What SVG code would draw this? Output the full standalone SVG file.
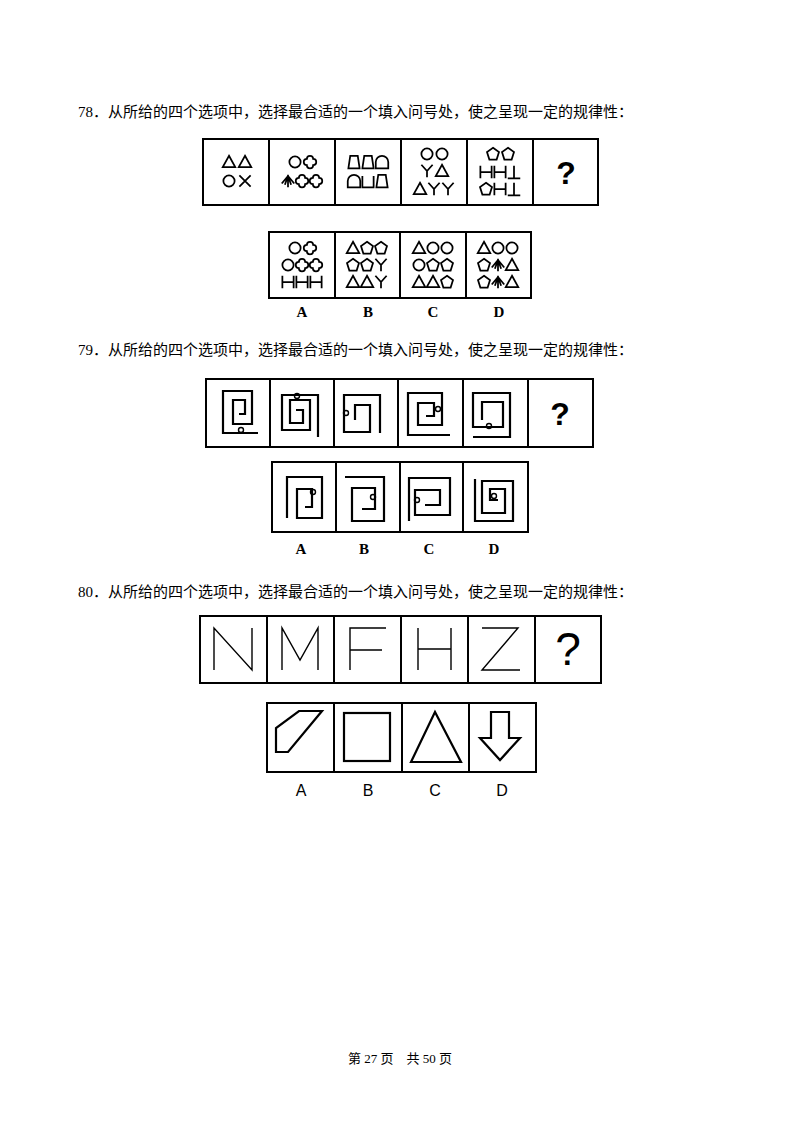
<svg xmlns="http://www.w3.org/2000/svg" xmlns:xlink="http://www.w3.org/1999/xlink" width="800" height="1124" viewBox="0 0 800 1124">
<style>
.q{font-family:"Liberation Serif","Noto Sans CJK SC",serif;font-size:15px;fill:#000}
.box{fill:none;stroke:#000;stroke-width:2}
.s{fill:none;stroke:#000;stroke-width:1.4;stroke-linejoin:miter}
.sp{fill:none;stroke:#000;stroke-width:2.2}
.lb{font-family:"Liberation Serif",serif;font-weight:bold;font-size:15px;text-anchor:middle}
.lb2{font-family:"Liberation Sans",sans-serif;font-size:16px;text-anchor:middle}
.qm{font-family:"Liberation Sans",sans-serif;font-weight:bold;font-size:32px;text-anchor:middle}
</style>
<defs>
<polygon id="tri" class="s" transform="scale(1.25)" points="0,-5 5,4 -5,4"/>
<circle id="cir" class="s" transform="scale(1.25)" r="4.5"/>
<path id="x" class="s" transform="scale(1.25)" d="M-4.5,-4.5 L4.5,4.5 M4.5,-4.5 L-4.5,4.5"/>
<path id="fl" class="s" transform="scale(1.25)" d="M-2.5,-2.5 A2.5,2.5 0 0 1 2.5,-2.5 A2.5,2.5 0 0 1 2.5,2.5 A2.5,2.5 0 0 1 -2.5,2.5 A2.5,2.5 0 0 1 -2.5,-2.5 Z"/>
<path id="um" class="s" transform="scale(1.25)" d="M0,-5 V5 M0,-4 L-5,2 M0,-4 L5,2 M0,-4 L-2.5,3 M0,-4 L2.5,3"/>
<polygon id="trap" class="s" transform="scale(1.25)" points="-3,-5 3,-5 4.5,5 -4.5,5"/>
<path id="arch" class="s" transform="scale(1.25)" d="M-5,5 V0 A5,5 0 0 1 5,0 V5 Z"/>
<path id="cup" class="s" transform="scale(1.25)" d="M-4.5,-4 V5 H4.5 V-4"/>
<path id="Y" class="s" transform="scale(1.25)" d="M-4.5,-5 L0,0 L4.5,-5 M0,0 V5"/>
<polygon id="pen" class="s" transform="scale(1.25)" points="0,-5 4.8,-1.5 2.9,4.5 -2.9,4.5 -4.8,-1.5"/>
<path id="H" class="s" transform="scale(1.25)" d="M-4.5,-5 V5 M4.5,-5 V5 M-4.5,0 H4.5"/>
<path id="pp" class="s" transform="scale(1.25)" d="M0,-5 V5 M-5,5 H5"/>
</defs>

<text class="q" x="78" y="117">78．从所给的四个选项中，选择最合适的一个填入问号处，使之呈现一定的规律性：</text>
<g id="q78-row">
<rect class="box" x="203" y="139" width="395" height="66"/>
<path class="box" d="M269,139 V205 M335,139 V205 M401,139 V205 M467,139 V205 M533,139 V205"/>
<use href="#tri" x="229" y="162"/><use href="#tri" x="245" y="162"/><use href="#cir" x="229" y="181"/><use href="#x" x="245" y="181"/>
<use href="#cir" x="295" y="162"/><use href="#fl" x="310" y="162"/><use href="#um" x="288" y="181"/><use href="#fl" x="302" y="181"/><use href="#fl" x="316" y="181"/>
<use href="#trap" x="354" y="162"/><use href="#trap" x="368" y="162"/><use href="#arch" x="382" y="162"/><use href="#arch" x="354" y="181"/><use href="#cup" x="368" y="181"/><use href="#trap" x="382" y="181"/>
<use href="#cir" x="427" y="154"/><use href="#cir" x="442" y="154"/><use href="#Y" x="427" y="171"/><use href="#tri" x="442" y="171"/><use href="#tri" x="420" y="189"/><use href="#Y" x="434" y="189"/><use href="#Y" x="448" y="189"/>
<use href="#pen" x="493" y="154"/><use href="#pen" x="508" y="154"/><use href="#H" x="486" y="172"/><use href="#H" x="500" y="172"/><use href="#pp" x="514" y="172"/><use href="#pen" x="486" y="189"/><use href="#H" x="500" y="189"/><use href="#pp" x="514" y="189"/>
<text class="qm" x="566" y="184">?</text>
</g>
<g id="q78-opts">
<rect class="box" x="269" y="232" width="262" height="66"/>
<path class="box" d="M335,232 V298 M400,232 V298 M466,232 V298"/>
<use href="#cir" x="295" y="248"/><use href="#fl" x="310" y="248"/><use href="#cir" x="288" y="265"/><use href="#fl" x="302" y="265"/><use href="#fl" x="316" y="265"/><use href="#H" x="288" y="282"/><use href="#H" x="302" y="282"/><use href="#H" x="316" y="282"/>
<use href="#tri" x="353" y="248"/><use href="#pen" x="367" y="248"/><use href="#pen" x="381" y="248"/><use href="#pen" x="353" y="265"/><use href="#pen" x="367" y="265"/><use href="#Y" x="381" y="265"/><use href="#tri" x="353" y="282"/><use href="#tri" x="367" y="282"/><use href="#Y" x="381" y="282"/>
<use href="#tri" x="419" y="248"/><use href="#cir" x="433" y="248"/><use href="#cir" x="447" y="248"/><use href="#cir" x="419" y="265"/><use href="#pen" x="433" y="265"/><use href="#pen" x="447" y="265"/><use href="#tri" x="419" y="282"/><use href="#tri" x="433" y="282"/><use href="#pen" x="447" y="282"/>
<use href="#tri" x="484" y="248"/><use href="#cir" x="498" y="248"/><use href="#cir" x="512" y="248"/><use href="#pen" x="484" y="265"/><use href="#um" x="498" y="265"/><use href="#tri" x="512" y="265"/><use href="#pen" x="484" y="282"/><use href="#um" x="498" y="282"/><use href="#tri" x="512" y="282"/>
<text class="lb" x="302" y="317">A</text><text class="lb" x="368" y="317">B</text><text class="lb" x="433" y="317">C</text><text class="lb" x="499" y="317">D</text>
</g>

<text class="q" x="78" y="355">79．从所给的四个选项中，选择最合适的一个填入问号处，使之呈现一定的规律性：</text>
<g id="q79-row">
<rect class="box" x="206" y="379" width="387" height="68"/>
<path class="box" d="M270,379 V447 M334,379 V447 M398,379 V447 M463,379 V447 M528,379 V447"/>
<path class="sp" d="M258,433 H223 V391 H252 V424 H233 V400 H245 V414 H239"/><circle class="s" cx="241" cy="430" r="2.5" fill="#fff"/>
<path class="sp" d="M318,437 V395 H282 V430 H310 V400 H290 V423 H303 V410 H296"/><circle class="s" cx="297" cy="396" r="2.5" fill="#fff"/>
<path class="sp" d="M380,433 V395 H344 V432 H370 V405 H355 V420"/><circle class="s" cx="346" cy="413" r="2.5" fill="#fff"/>
<path class="sp" d="M450,435 H408 V393 H442 V425 H418 V403 H434 V416 H426"/><circle class="s" cx="438" cy="409" r="2.5" fill="#fff"/>
<path class="sp" d="M473,437 H510 V393 H473 V427 H503 V402 H482 V420"/><circle class="s" cx="489" cy="426" r="2.5" fill="#fff"/>
<text class="qm" x="560" y="425">?</text>
</g>
<g id="q79-opts">
<rect class="box" x="272" y="462" width="256" height="70"/>
<path class="box" d="M336,462 V532 M400,462 V532 M463,462 V532"/>
<path class="sp" d="M287,518 V477 H322 V518 H297 V489 H312 V507 H305"/><circle class="s" cx="313" cy="492" r="2.5" fill="#fff"/>
<path class="sp" d="M345,477 H384 V521 H352 V488 H375 V509 H362"/><circle class="s" cx="373" cy="497" r="2.5" fill="#fff"/>
<path class="sp" d="M409,521 V478 H450 V515 H415 V490 H440 V505 H425"/><circle class="s" cx="417" cy="500" r="2.5" fill="#fff"/>
<path class="sp" d="M475,479 V521 H513 V481 H482 V513 H505 V489 H490 V500 H498"/><circle class="s" cx="494" cy="496" r="2.5" fill="#fff"/>
<text class="lb" x="301" y="554">A</text><text class="lb" x="364" y="554">B</text><text class="lb" x="429" y="554">C</text><text class="lb" x="494" y="554">D</text>
</g>

<text class="q" x="78" y="597">80．从所给的四个选项中，选择最合适的一个填入问号处，使之呈现一定的规律性：</text>
<g id="q80-row">
<rect class="box" x="200" y="616" width="401" height="67"/>
<path class="box" d="M267,616 V683 M334,616 V683 M401,616 V683 M468,616 V683 M535,616 V683"/>
<path class="s" d="M214,670 V628 L252,670 V628"/>
<path class="s" d="M282,670 V628 L300,660 L318,628 V670"/>
<path class="s" d="M386,628 H350 V670 M350,650 H382"/>
<path class="s" d="M418,628 V670 M451,628 V670 M418,649 H451"/>
<path class="s" d="M482,628 H518 L482,670 H520"/>
<text class="qm" x="568" y="665" style="font-size:46px;font-weight:normal">?</text>
</g>
<g id="q80-opts">
<rect class="box" x="267" y="703" width="269" height="69"/>
<path class="box" d="M334,703 V772 M402,703 V772 M469,703 V772"/>
<polygon class="sp" points="276,752 276,728 299,711 322,711 288,752"/>
<rect class="sp" x="344" y="713" width="46" height="48"/>
<polygon class="sp" points="411,762 435,712 461,762"/>
<polygon class="sp" points="491,712 509,712 509,738 520,738 500,760 480,738 491,738"/>
<text class="lb2" x="301" y="796">A</text><text class="lb2" x="368" y="796">B</text><text class="lb2" x="435" y="796">C</text><text class="lb2" x="502" y="796">D</text>
</g>

<text x="400" y="1063" style="font-family:'Liberation Serif','Noto Sans CJK SC',serif;font-size:13px;text-anchor:middle">第 27 页　共 50 页</text>
</svg>
